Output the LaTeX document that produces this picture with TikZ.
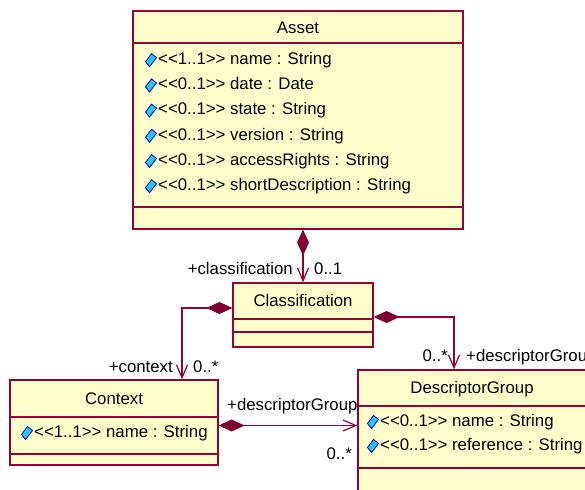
\documentclass[tikz,border=0pt]{standalone}
\usepackage{fontspec}
\newfontfamily\umlfont{Liberation Sans}
\usetikzlibrary{arrows.meta}

\definecolor{umlline}{RGB}{153,0,51}
\definecolor{umldiam}{RGB}{128,0,51}
\definecolor{umlfill}{RGB}{255,255,204}
\definecolor{iconfill}{RGB}{40,200,255}
\definecolor{iconline}{RGB}{0,0,170}

\tikzset{
  classbox/.style={draw=umlline,fill=umlfill,line width=1.2pt,inner sep=0pt},
  sepline/.style={draw=umlline,line width=1.2pt},
  umltext/.style={inner sep=0pt,text height=12pt,text depth=3.5pt,
    font=\umlfont\fontsize{16.8}{18}\selectfont},
  attr/.style={umltext,anchor=west},
  rolelbl/.style={umltext},
  comp/.style={draw=umlline,line width=1.2pt,
    arrows={Diamond[length=26pt,width=12pt,color=umldiam,fill=umldiam]-Straight Barb[length=13pt,width=11pt]}},
  icon/.pic={\draw[iconline,fill=iconfill,line width=0.8pt]
    (-5.5,1.5) -- (0.5,-6.5) -- (5.5,-2.5) -- (-1.5,6.5) -- cycle;}
}

\begin{document}
\begin{tikzpicture}[x=1pt,y=-1pt]
  \useasboundingbox (0,0) rectangle (585,489);
  \clip (0,0) rectangle (585,489);

  % classes
  \node[classbox,minimum width=330pt,minimum height=218pt] (asset) at (298,120) {};
  \node[classbox,minimum width=140pt,minimum height=64pt] (cls) at (303,315) {};
  \node[classbox,minimum width=208pt,minimum height=85pt] (ctx) at (114,422.5) {};
  \node[classbox,minimum width=244pt,minimum height=140pt] (dg) at (480,440) {};

  \draw[sepline] (asset.west |- 0,43) -- (asset.east |- 0,43);
  \draw[sepline] (asset.west |- 0,207) -- (asset.east |- 0,207);
  \draw[sepline] (cls.west |- 0,319) -- (cls.east |- 0,319);
  \draw[sepline] (cls.west |- 0,332) -- (cls.east |- 0,332);
  \draw[sepline] (ctx.west |- 0,417) -- (ctx.east |- 0,417);
  \draw[sepline] (ctx.west |- 0,454) -- (ctx.east |- 0,454);
  \draw[sepline] (dg.west |- 0,406) -- (dg.east |- 0,406);
  \draw[sepline] (dg.west |- 0,468) -- (dg.east |- 0,468);

  \node[umltext] (asset-t) at (298,29) {Asset};
  \node[umltext] (cls-t) at (303,302) {Classification};
  \node[umltext] (ctx-t) at (114,400) {Context};
  \node[umltext] (dg-t) at (472,389) {DescriptorGroup};

  % attributes
  \foreach \a [count=\i] in {<<1..1>> name : String,<<0..1>> date : Date,
      <<0..1>> state : String,<<0..1>> version : String,
      <<0..1>> accessRights : String,<<0..1>> shortDescription : String} {
    \pic at (151,{35+25.2*\i}) {icon};
    \node[attr] (asset-a\i) at (158,{35+25.2*\i}) {\a};
  }
  \pic at (27,433) {icon};
  \node[attr] (ctx-a1) at (34,433) {<<1..1>> name : String};
  \pic at (373,422) {icon};
  \node[attr] (dg-a1) at (380,422) {<<0..1>> name : String};
  \pic at (373,446) {icon};
  \node[attr] (dg-a2) at (380,446) {<<0..1>> reference : String};

  % associations
  \coordinate (ctxout) at ([yshift=-3pt]ctx.east);
  \draw[comp] (cls.north |- asset.south) -- (cls.north);
  \draw[comp] ([yshift=7pt]cls.west) -| ([xshift=68pt]ctx.north);
  \draw[comp] ([yshift=-2pt]cls.east) -| ([xshift=-26pt]dg.north);
  \draw[comp] (ctxout) -- (dg.west |- ctxout);

  % role names
  \node[rolelbl,anchor=east] (r-cls) at (293,270) {+classification};
  \node[rolelbl,anchor=west] (m-cls) at (314,270) {0..1};
  \node[rolelbl,anchor=east] (r-ctx) at (173,368) {+context};
  \node[rolelbl,anchor=west] (m-ctx) at (193,368) {0..*};
  \node[rolelbl,anchor=east] (m-dg1) at (448,357) {0..*};
  \node[rolelbl,anchor=west] (r-dg1) at (466,357) {+descriptorGroup};
  \node[rolelbl,anchor=west] (r-dg2) at (227,406) {+descriptorGroup};
  \node[rolelbl,anchor=east] (m-dg2) at (352,455) {0..*};
\end{tikzpicture}
\end{document}
